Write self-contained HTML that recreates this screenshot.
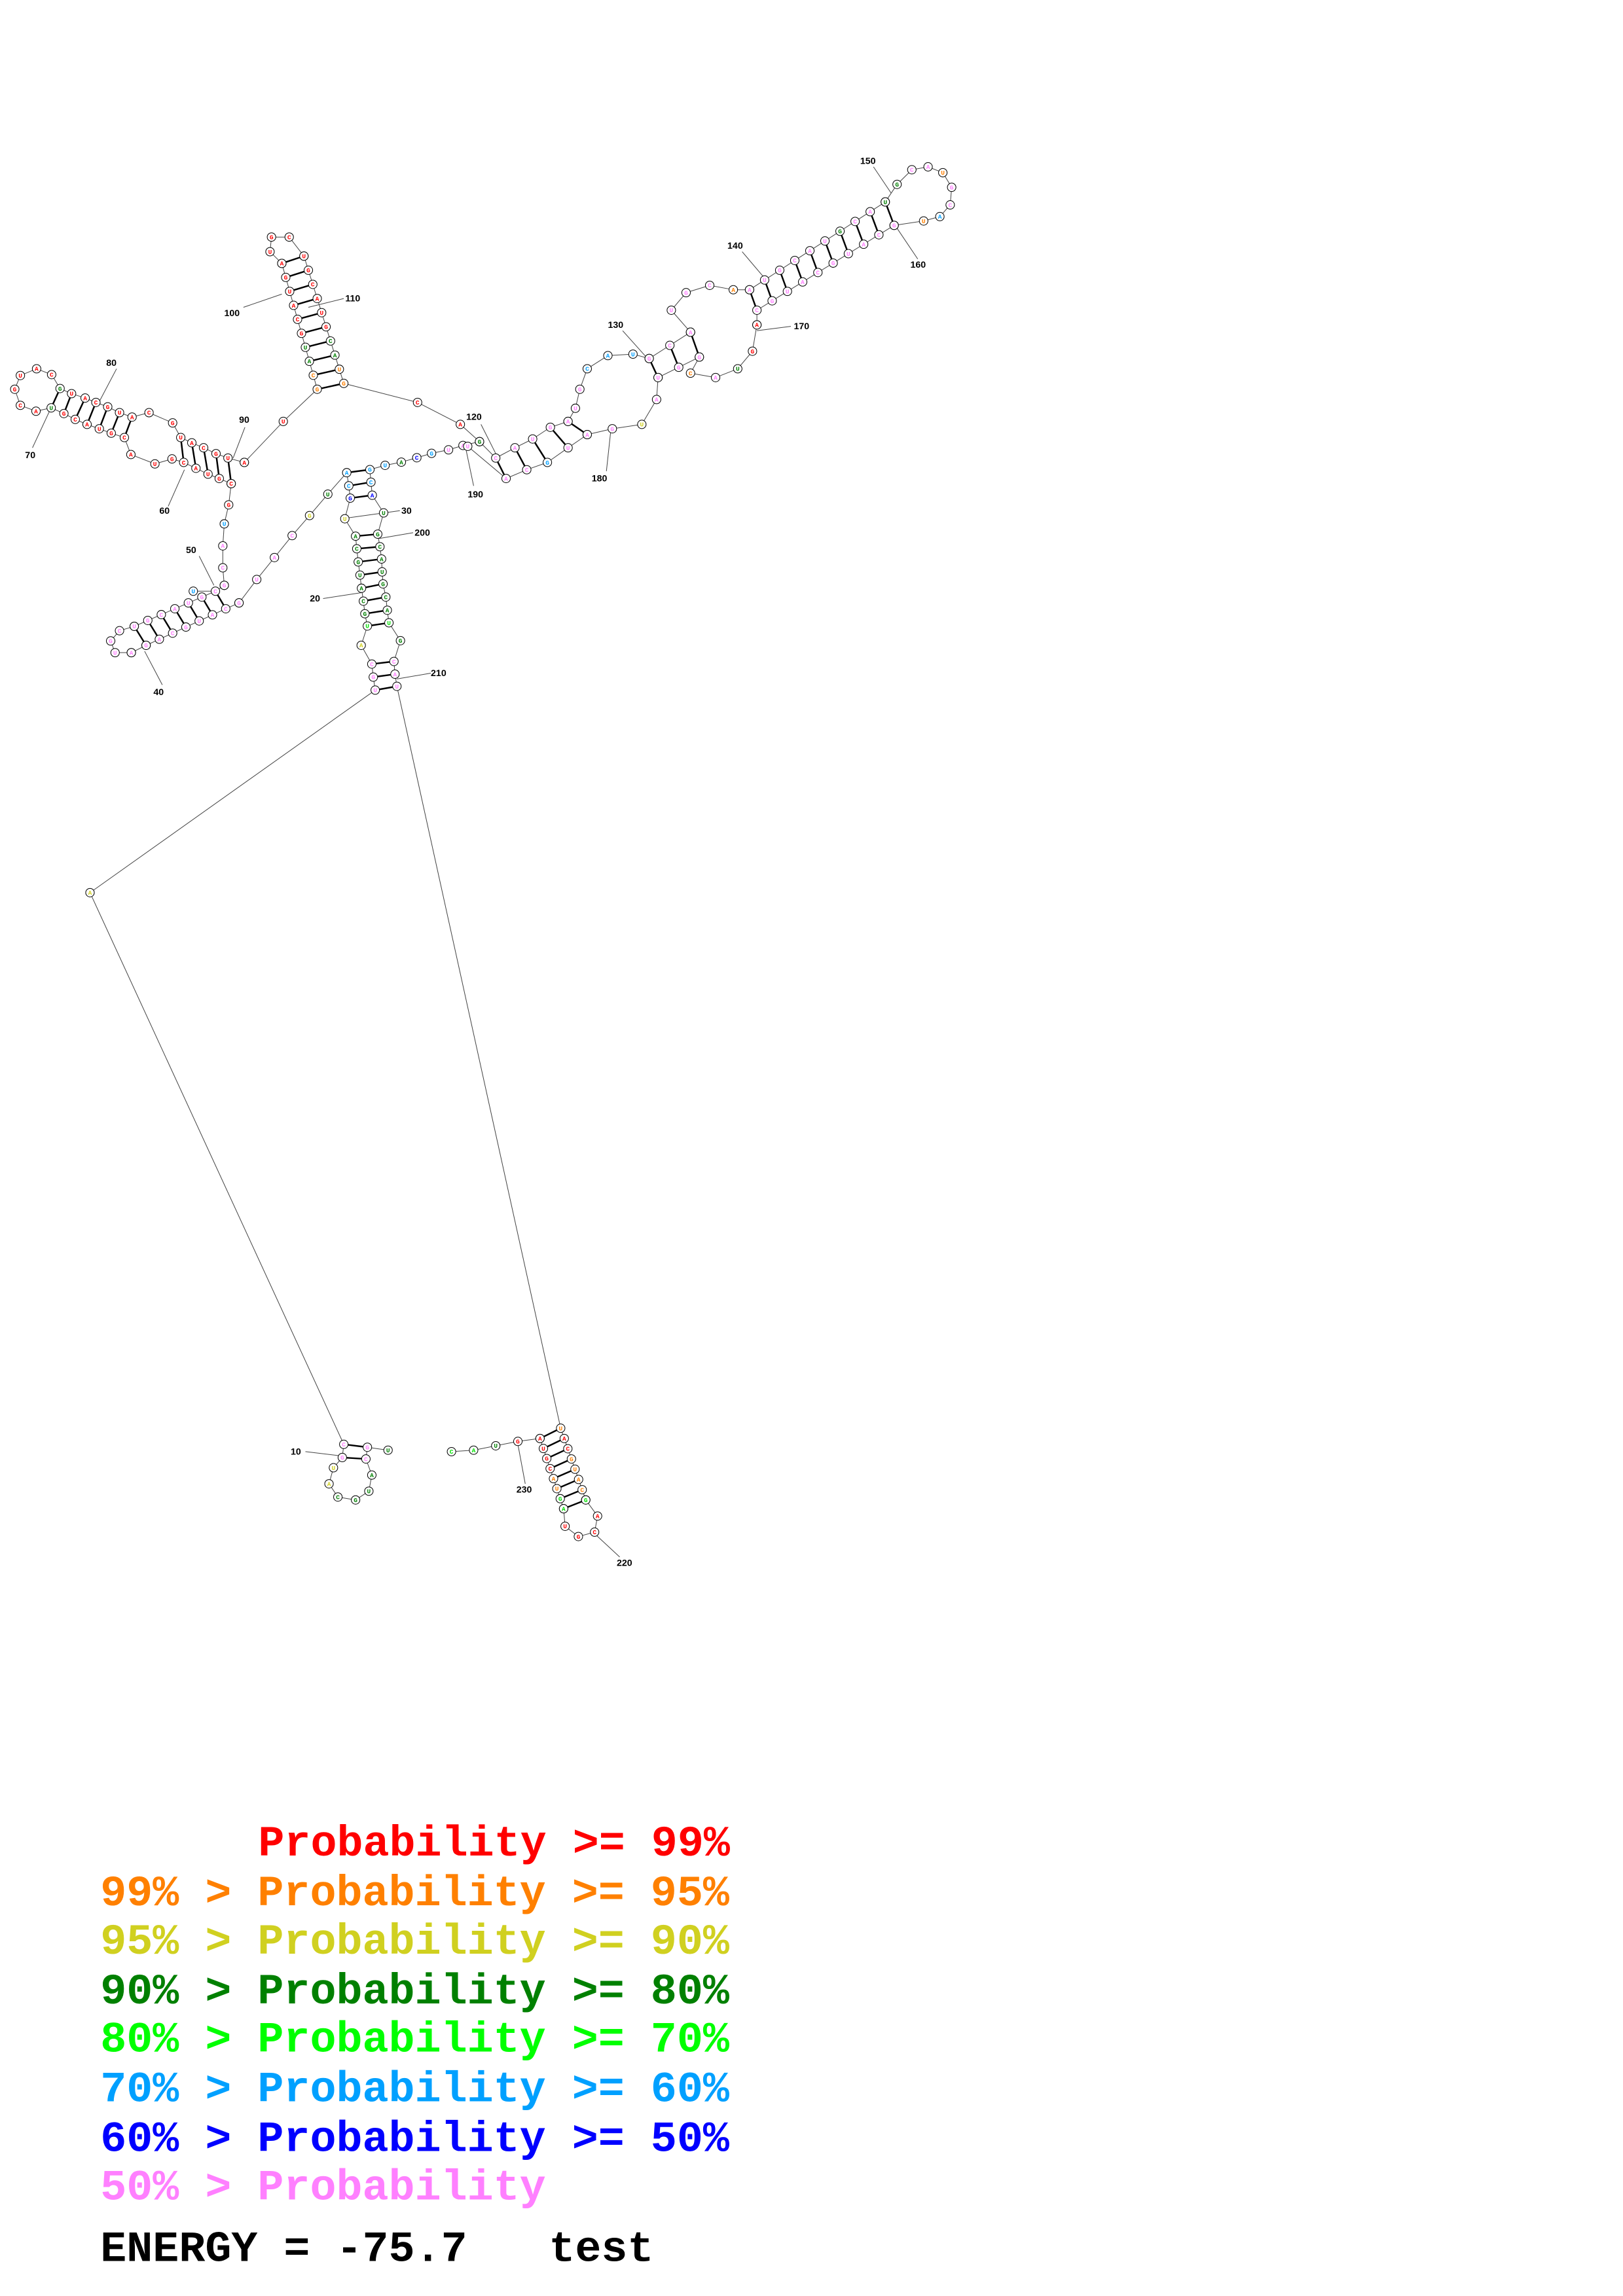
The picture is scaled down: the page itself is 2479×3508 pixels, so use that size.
<!DOCTYPE html>
<html><head><meta charset="utf-8"><style>
html,body{margin:0;padding:0;background:#fff}
svg{display:block}
.lg text{white-space:pre}
</style></head><body>
<svg id="s" xmlns="http://www.w3.org/2000/svg" width="2479" height="3508" viewBox="0 0 1100 1569" preserveAspectRatio="none">
<rect width="1100" height="1569" fill="#fff"/>
<g id="lines" stroke="#444" stroke-width="0.45" fill="none"></g>
<g id="bars" stroke="#000" stroke-width="1.1"></g>
<g id="nodes"></g>
<g id="labels" font-family="Liberation Sans, sans-serif" font-weight="bold" font-size="6.3" fill="#000"></g>
<g class="lg" font-family="Liberation Mono, monospace" font-weight="bold" font-size="29.6">
<text x="175" y="1268" fill="#ff0000">Probability &gt;= 99%</text>
<text x="68" y="1302" fill="#ff8000">99% &gt; Probability &gt;= 95%</text>
<text x="68" y="1335" fill="#d0d020">95% &gt; Probability &gt;= 90%</text>
<text x="68" y="1369" fill="#008000">90% &gt; Probability &gt;= 80%</text>
<text x="68" y="1402" fill="#00ff00">80% &gt; Probability &gt;= 70%</text>
<text x="68" y="1436" fill="#00a0ff">70% &gt; Probability &gt;= 60%</text>
<text x="68" y="1470" fill="#0000ff">60% &gt; Probability &gt;= 50%</text>
<text x="68" y="1503" fill="#ff80ff">50% &gt; Probability</text>
<text x="68" y="1545" fill="#000000">ENERGY = -75.7</text>
<text x="372" y="1545" fill="#000000">test</text>
</g>
</svg>
<script>
(function(){
var NS="http://www.w3.org/2000/svg";
var gL=document.getElementById('lines'),gB=document.getElementById('bars'),gN=document.getElementById('nodes'),gT=document.getElementById('labels');
var COL={R:'#ff0000',O:'#ff8000',Y:'#d0d020',G:'#008000',L:'#00e000',C:'#00a0ff',B:'#0000ff',P:'#ff80ff'};
var LET="ACGU";
var nodes=[];
function el(g,t,a){var e=document.createElementNS(NS,t);for(var k in a)e.setAttribute(k,a[k]);g.appendChild(e);return e;}
function line(a,b){el(gL,'line',{x1:a[0],y1:a[1],x2:b[0],y2:b[1]});}
function bar(a,b){var dx=b[0]-a[0],dy=b[1]-a[1],d=Math.sqrt(dx*dx+dy*dy)||1,r=3;
 el(gB,'line',{x1:a[0]+dx/d*r,y1:a[1]+dy/d*r,x2:b[0]-dx/d*r,y2:b[1]-dy/d*r});}
function lin(x1,y1,x2,y2,n){var r=[];for(var i=0;i<n;i++){var t=n==1?0:i/(n-1);r.push([x1+(x2-x1)*t,y1+(y2-y1)*t]);}return r;}
function chain(pts,cols){for(var i=0;i<pts.length;i++){if(i>0)line(pts[i-1],pts[i]);var c=cols[Math.min(i,cols.length-1)];nodes.push([pts[i],c]);}}
function ladder(A,B){for(var i=0;i<Math.min(A.length,B.length);i++)bar(A[i],B[i]);}
function lab(t,x,y,lx,ly,nx,ny){el(gL,'line',{x1:lx,y1:ly,x2:nx,y2:ny});var e=el(gT,'text',{x:x,y:y});e.textContent=t;}

var r1=[[263,991],[249,989],[248,997],[252,1008],[250,1019],[241,1025],[229,1023],[223,1014],[226,1003],[232,996],[233,987]];
chain(r1,"GPPGGGGYYPP");
bar([233,987],[249,989]);bar([232,996],[248,997]);
line([233,987],[61,610]);line([61,610],[254.3,471.6]);
nodes.push([[61,610],'Y']);

var A1=[[254.3,471.6],[253,462.7],[252,453.8],[244.8,441],[249,427.8],[247.3,419.4],[246.3,410.8],[245,402],[244,393],[242.8,384],[241.8,375],[241,366.4],[233.7,354.5],[237.4,340.4],[236.4,332],[235,323]];
chain(A1,"PPPYLGGGGGGGYBCC");
var A2=[[222.2,337.7],[209.8,352.3],[198,366],[186,381],[174,396],[162,412]];
line([235,323],A2[0]);chain(A2,"GYPPPP");
var B1=[[325,301.8],[313.8,304.4],[304,307.4],[292.5,309.8],[282.5,312.8],[272,315.8],[261,318],[250.7,320.9],[251.4,329.5],[252.3,338.4],[260,350.5],[256,365],[257.5,373.6],[258.6,382],[259,390.8],[259.6,399],[261.5,408],[262.5,417],[263.6,425.6],[271.4,437.8],[267,452],[267.7,460.7],[269,469]];
chain(B1,"GPPCBGCCCBGGGGGGGGLGPPP");
ladder([[254.3,471.6],[253,462.7],[252,453.8]],[[269,469],[267.7,460.7],[267,452]]);
ladder([[249,427.8],[247.3,419.4],[246.3,410.8],[245,402],[244,393],[242.8,384],[241.8,375],[241,366.4]],[[263.6,425.6],[262.5,417],[261.5,408],[259.6,399],[259,390.8],[258.6,382],[257.5,373.6],[256,365]]);
ladder([[237.4,340.4],[236.4,332],[235,323]],[[252.3,338.4],[251.4,329.5],[250.7,320.9]]);

line([269,469],[380,976]);

var HA=lin(146,404,91,428,7),HB=lin(153,416,99,441,7);
chain([[162,412],[153,416]].concat(HB.slice(1)),"PPPPPPPP");
chain([HB[6],[89,446]],"PP");
chain([[89,446],[78,446],[75,438],[81,431],HA[6]],"PPPPP");
var HAr=HA.slice().reverse();chain(HAr.concat([[152,400]]),"PPPPPPPP");
ladder(HA,HB);
nodes.push([[131,404],'C']);line([131,404],[146,404]);
var V=[[152,400],[151,388],[151,373],[152,358],[155,345],[156.7,330.5]];
chain(V,"PPPCRR");

var up=[[165.6,316],[154.5,313],[146.4,310],[138,306],[130,302.6],[122.5,299],[117,289],[101,282],[89.5,285],[81,282],[73,278],[65,275],[57.7,272],[48.5,269],[40.7,265.5],[35,256],[24.8,252],[13.8,256.6],[10,266],[13.8,277],[24.4,281],[34.7,278.7],[43.3,282.6],[51,286.6],[59,290],[67.3,293],[75.4,296],[84.3,299],[88.7,310.6],[105,317],[116.6,313.6],[124.5,316],[132.8,320],[141,324],[148.6,327],[156.7,330.5]];
chain(up,"RRRRRRRRRRRRRRGRRRRRRGRRRRRRRRRRRRRR");
ladder([[154.5,313],[146.4,310],[138,306],[130,302.6],[122.5,299]],[[156.7,330.5],[148.6,327],[141,324],[132.8,320],[124.5,316]]);
ladder([[89.5,285],[81,282],[73,278],[65,275],[57.7,272],[48.5,269],[40.7,265.5]],[[84.3,299],[75.4,296],[67.3,293],[59,290],[51,286.6],[43.3,282.6],[34.7,278.7]]);

var SA=lin(215,266,191,180,10),SB=lin(233,262,206,175,10);
chain([[165.6,316],[192,288]].concat(SA),"RROOGGRRRRRRR");
chain([SA[9],[183,172],[184,162],[196,162],[206,175]],"RRRRR");
chain(SB.slice().reverse().concat([[283,275],[312,290],[325,301.8]]),"RRRRRRGGOORRR");
ladder(SA,SB);

var RA=[[336,313],[349,306],[361,300],[373,292],[385,288]],RB=[[343,327],[357,321],[371,316],[385,306],[398,297]];
chain([[325,301.8]].concat(RA),"GPPPPP");
chain([[385,288],[390,279],[393,266],[398,252],[412,243],[429,242],[440,245]],"PPPCCCP");
chain([[446,258],[445,273],[435,290],[415,293],[398,297]],"PPYPP");
chain(RB.slice().reverse().concat([[317,305]]),"PPCPPP");
ladder(RA,RB);
var TA=lin(440,245,468,227,3),TB=lin(446,258,474,244,3);
chain(TA,"PPP");chain(TB,"PPP");ladder(TA,TB);
chain([[468,227],[455,212],[465,200],[481,195],[497,198],[508,198]],"PPPPOP");
chain([[474,244],[468,255],[485,258],[500,252],[510,240],[513,222]],"POPGRR");
var UA=lin(508,198,600,138,10),UB=lin(513,212,606,154,10);
chain(UA,"PPPPPPGPPG");chain(UB.slice().reverse().concat([[513,222]]),"PPPPPPPPPPR");
ladder(UA,UB);
chain([[600,138],[608,126],[618,116],[629,114],[639,118],[645,128],[644,140],[637,148],[626,151],[606,154]],"GGPPOPPCOP");

var ZA=lin(380,976,397,1025,8),ZB=lin(366,983,382,1031,8);
chain([[306,992],[321,991],[336,988],[351,985],[366,983]],"LLGRO");
chain(ZB,"RRRROOLL");
chain([ZB[7],[383,1043],[392,1050],[403,1047],[405,1036],ZA[7]],"LRRRRL");
chain(ZA.slice().reverse(),"LOOOORRO");
ladder(ZA,ZB);

lab("10",197,994,207,992,232,995);
lab("20",210,411,219,409,245,405);
lab("30",272,351,235,354,271,349);
lab("40",104,475,110,468,98,445);
lab("50",126,378,135,380,145,400);
lab("60",108,351,114,346,125,321);
lab("70",17,313,22,306,34,280);
lab("80",72,250,79,252,67,275);
lab("90",162,289,166,292,158,313);
lab("100",152,216,165,210,191,201);
lab("110",234,206,233,204,209,210);
lab("120",316,287,326,290,337,312);
lab("130",412,224,422,226,438,244);
lab("140",493,170,503,172,519,191);
lab("150",583,112,592,114,604,132);
lab("160",617,183,622,177,608,156);
lab("170",538,225,536,223,513,226);
lab("180",401,329,411,322,414,294);
lab("190",317,340,321,332,316,308);
lab("200",281,366,280,364,257,368);
lab("210",292,462,292,460,269,464);
lab("220",418,1070,420,1064,404,1049);
lab("230",350,1020,356,1014,351,987);

for(var i=0;i<nodes.length;i++){var p=nodes[i][0],c=COL[nodes[i][1]]||'#ff80ff';
 el(gN,'circle',{cx:p[0],cy:p[1],r:2.9,fill:'#fff',stroke:'#000','stroke-width':0.45});
 var t=el(gN,'text',{x:p[0],y:p[1]+1.45,'text-anchor':'middle','font-family':'Liberation Mono, monospace','font-weight':'bold','font-size':4.2,fill:c});
 t.textContent=LET[(i*7+3)%4];}
})();
</script>
</body></html>
